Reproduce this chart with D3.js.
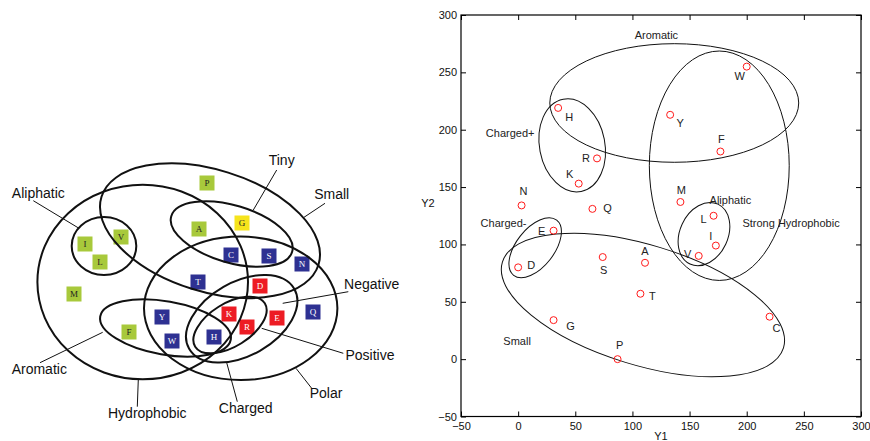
<!DOCTYPE html>
<html>
<head>
<meta charset="utf-8">
<script src="https://cdn.jsdelivr.net/npm/d3@7"></script>
<style>
  body { margin: 0; background: #fff; }
  svg { display: block; font-family: "Liberation Sans", Arial, sans-serif; }
</style>
</head>
<body>
<div id="chart"></div>
<script>
// ---------- left panel: Venn diagram of amino acid properties ----------
// diagram units: x 0..420, y 0..290
var acids = ["P", "A", "I", "V", "L", "M", "F", "G", "T", "C", "S", "N", "Q", "Y", "W", "H", "D", "K", "R", "E"];
var acidX = [207, 199, 85, 121, 100, 74, 129, 242, 198, 231, 269, 302, 313, 162, 172, 214, 260, 229, 247, 277];
var acidY = [43, 89, 104, 97, 122, 154, 192, 83, 142, 115, 116, 124, 172, 177, 201, 197, 146, 174, 187, 178];
var acidGroup = ["h", "h", "h", "h", "h", "h", "h", "t", "p", "p", "p", "p", "p", "p", "p", "p", "c", "c", "c", "c"];

var setNames = ["Aliphatic", "Hydrophobic", "Small", "Tiny", "Polar", "Charged", "Positive", "Aromatic"];
var setCx = [104, 142.7, 210, 231.7, 240.7, 241.7, 230, 165.5];
var setCy = [106, 142, 90.7, 94, 168.3, 178.8, 185, 188];
var setRx = [32.3, 105.3, 113.7, 63, 96.7, 60.5, 41, 66.3];
var setRy = [29, 97.3, 60.9, 28.6, 71.7, 36.8, 21.5, 26.7];
var setAngle = [0, 0, 17.4, 16.4, 0, -29.7, -31.9, 10];

var calloutText = ["Aliphatic", "Tiny", "Small", "Negative", "Positive", "Polar", "Charged", "Hydrophobic", "Aromatic"];
var calloutX = [38.3, 281.7, 331.7, 371.7, 370, 326, 245.7, 147.3, 39.3];
var calloutY = [52.7, 20, 54, 144, 215, 253.3, 268.3, 272.7, 229.3];
var leaderFrom = [[33.3, 60.7], [276.7, 30], [325, 63.3], [348.3, 151.7], [343.3, 213.3], [311.7, 248.3], [237.3, 261.7], [137.3, 266.7], [40, 222.7]];
var leaderTo = [[79, 88.3], [253.3, 70], [304, 77.3], [282.7, 163.3], [261.7, 188.3], [296, 228.3], [226.7, 222.7], [138.3, 239.3], [102.7, 192.3]];

// ---------- right panel: scatter of Y1 / Y2 ----------
var pts = ["W", "H", "Y", "F", "R", "K", "M", "N", "Q", "E", "D", "S", "A", "T", "G", "P", "C", "L", "I", "V"];
var ptY1 = [200, 35, 133, 177, 69, 53, 142, 3, 65, 31, 0, 74, 111, 107, 31, 87, 220, 171, 173, 158];
var ptY2 = [255, 219, 213, 181, 175, 153, 137, 134, 131, 112, 80, 89, 84, 57, 34, 0, 37, 125, 99, 90];
// label offset in px from the marker
var ptDx = [-7, 11, 10, 1, -11, -9, 1, 2, 15, -12, 13, 1, 0, 12, 17, 2, 7, -10, -5, -11];
var ptDy = [10, 9, 8, -12, 0, -9, -12, -14, -1, 0, -2, 13, -12, 2, 6, -14, 11, 3, -9, -2];

var groupNames = ["Aromatic", "Charged+", "Strong Hydrophobic", "Aliphatic", "Charged-", "Small"];
var groupCx = [136.6, 47.3, 176, 162.6, 14.9, 109.2];
var groupCy = [223.3, 186.4, 168.6, 109, 97.1, 47.2];
var groupRx = [108.9, 41.1, 61.2, 28.9, 30.6, 128.6];
var groupRy = [51.7, 28.6, 100, 21, 16.6, 52.5];
var groupAngle = [0, 79, 0, -65, -52, 17];
var groupLabelX = [121, -7, 238.8, 185.7, -12.8, -0.9];
var groupLabelY = [282.6, 196.9, 118.4, 138.7, 118.4, 15.8];

var tickVals = [-50, 0, 50, 100, 150, 200, 250, 300];

var width = 870, height = 441;

var svg = d3.select("#chart")
  .append("svg")
  .attr("width", width)
  .attr("height", height);

svg.append("rect").attr("width", width).attr("height", height).attr("fill", "#fff");

// ===== left =====
var lx = d3.scaleLinear().domain([0, 420]).range([0, 420]);
var ly = d3.scaleLinear().domain([0, 290]).range([140, 430]);
var fillOf = { h: "#a8c93b", t: "#f6e41c", p: "#2e3192", c: "#ed1c24" };
var inkOf = { h: "#222", t: "#222", p: "#fff", c: "#fff" };

var left = svg.append("g").attr("class", "venn");

var SQ = 15;
left.selectAll("g.acid")
  .data(acids)
  .enter().append("g")
  .attr("class", "acid")
  .attr("transform", function (d, i) { return "translate(" + lx(acidX[i]) + "," + ly(acidY[i]) + ")"; })
  .each(function (d, i) {
    var g = d3.select(this);
    g.append("rect")
      .attr("x", -SQ / 2).attr("y", -SQ / 2)
      .attr("width", SQ).attr("height", SQ)
      .attr("fill", fillOf[acidGroup[i]]);
    g.append("text")
      .attr("text-anchor", "middle")
      .attr("dy", "0.35em")
      .style("font-family", "'Liberation Serif', 'Times New Roman', serif")
      .style("font-size", "9px")
      .attr("fill", inkOf[acidGroup[i]])
      .text(d);
  });

left.selectAll("ellipse")
  .data(setNames)
  .enter().append("ellipse")
  .attr("transform", function (d, i) {
    return "translate(" + lx(setCx[i]) + "," + ly(setCy[i]) + ") rotate(" + setAngle[i] + ")";
  })
  .attr("rx", function (d, i) { return lx(setRx[i]) - lx(0); })
  .attr("ry", function (d, i) { return ly(setRy[i]) - ly(0); })
  .attr("fill", "none")
  .attr("stroke", "#111")
  .attr("stroke-width", 2);

left.selectAll("line.leader")
  .data(calloutText)
  .enter().append("line")
  .attr("class", "leader")
  .attr("x1", function (d, i) { return lx(leaderFrom[i][0]); })
  .attr("y1", function (d, i) { return ly(leaderFrom[i][1]); })
  .attr("x2", function (d, i) { return lx(leaderTo[i][0]); })
  .attr("y2", function (d, i) { return ly(leaderTo[i][1]); })
  .attr("stroke", "#111")
  .attr("stroke-width", 1);

left.selectAll("text.callout")
  .data(calloutText)
  .enter().append("text")
  .attr("class", "callout")
  .attr("x", function (d, i) { return lx(calloutX[i]); })
  .attr("y", function (d, i) { return ly(calloutY[i]); })
  .attr("dy", "0.35em")
  .attr("text-anchor", "middle")
  .style("font-size", "14px")
  .attr("fill", "#111")
  .text(function (d) { return d; });

// ===== right =====
var x = d3.scaleLinear().domain([-50, 300]).range([461, 861]);
var y = d3.scaleLinear().domain([-50, 300]).range([416.5, 15]);
var kx = x(1) - x(0);
var ky = y(0) - y(1);

var right = svg.append("g").attr("class", "scatter");

right.append("g")
  .attr("transform", "translate(0," + y(-50) + ")")
  .call(d3.axisBottom(x).tickValues(tickVals).tickSizeInner(-5).tickSizeOuter(0).tickPadding(6));
right.append("g")
  .attr("transform", "translate(0," + y(300) + ")")
  .call(d3.axisTop(x).tickValues(tickVals).tickSizeInner(-5).tickSizeOuter(0).tickFormat(""));
right.append("g")
  .attr("transform", "translate(" + x(-50) + ",0)")
  .call(d3.axisLeft(y).tickValues(tickVals).tickSizeInner(-5).tickSizeOuter(0).tickPadding(4));
right.append("g")
  .attr("transform", "translate(" + x(300) + ",0)")
  .call(d3.axisRight(y).tickValues(tickVals).tickSizeInner(-5).tickSizeOuter(0).tickFormat(""));

right.selectAll(".domain").remove();
right.selectAll(".tick line").attr("stroke", "#000");
right.selectAll(".tick text")
  .style("font-family", "'Liberation Sans', Arial, sans-serif")
  .style("font-size", "11px")
  .attr("fill", "#111");

right.append("rect")
  .attr("x", x(-50)).attr("y", y(300))
  .attr("width", x(300) - x(-50)).attr("height", y(-50) - y(300))
  .attr("fill", "none")
  .attr("stroke", "#000")
  .attr("stroke-width", 1.2);

// axis titles (Y1 sits at the very bottom edge, as in the source figure)
right.append("text")
  .attr("x", (x(-50) + x(300)) / 2)
  .attr("y", 440)
  .attr("text-anchor", "middle")
  .style("font-size", "11px")
  .attr("fill", "#111")
  .text("Y1");

right.append("text")
  .attr("x", 428)
  .attr("y", 203)
  .attr("dy", "0.35em")
  .attr("text-anchor", "middle")
  .style("font-size", "11px")
  .attr("fill", "#111")
  .text("Y2");

right.selectAll("ellipse")
  .data(groupNames)
  .enter().append("ellipse")
  .attr("transform", function (d, i) {
    return "translate(" + x(groupCx[i]) + "," + y(groupCy[i]) + ") rotate(" + groupAngle[i] + ")";
  })
  .attr("rx", function (d, i) { return groupRx[i] * kx; })
  .attr("ry", function (d, i) { return groupRy[i] * (groupAngle[i] === 0 ? ky : kx); })
  .attr("fill", "none")
  .attr("stroke", "#111")
  .attr("stroke-width", 1);

right.selectAll("text.group")
  .data(groupNames)
  .enter().append("text")
  .attr("class", "group")
  .attr("x", function (d, i) { return x(groupLabelX[i]); })
  .attr("y", function (d, i) { return y(groupLabelY[i]); })
  .attr("dy", "0.35em")
  .attr("text-anchor", "middle")
  .style("font-size", "11px")
  .attr("fill", "#222")
  .text(function (d) { return d; });

right.selectAll("circle.pt")
  .data(pts)
  .enter().append("circle")
  .attr("class", "pt")
  .attr("cx", function (d, i) { return x(ptY1[i]); })
  .attr("cy", function (d, i) { return y(ptY2[i]); })
  .attr("r", 3.5)
  .attr("fill", "none")
  .attr("stroke", "#ff1a1a")
  .attr("stroke-width", 1);

right.selectAll("text.pt")
  .data(pts)
  .enter().append("text")
  .attr("class", "pt")
  .attr("x", function (d, i) { return x(ptY1[i]) + ptDx[i]; })
  .attr("y", function (d, i) { return y(ptY2[i]) + ptDy[i]; })
  .attr("dy", "0.35em")
  .attr("text-anchor", "middle")
  .style("font-size", "11px")
  .attr("fill", "#222")
  .text(function (d) { return d; });
</script>
</body>
</html>
